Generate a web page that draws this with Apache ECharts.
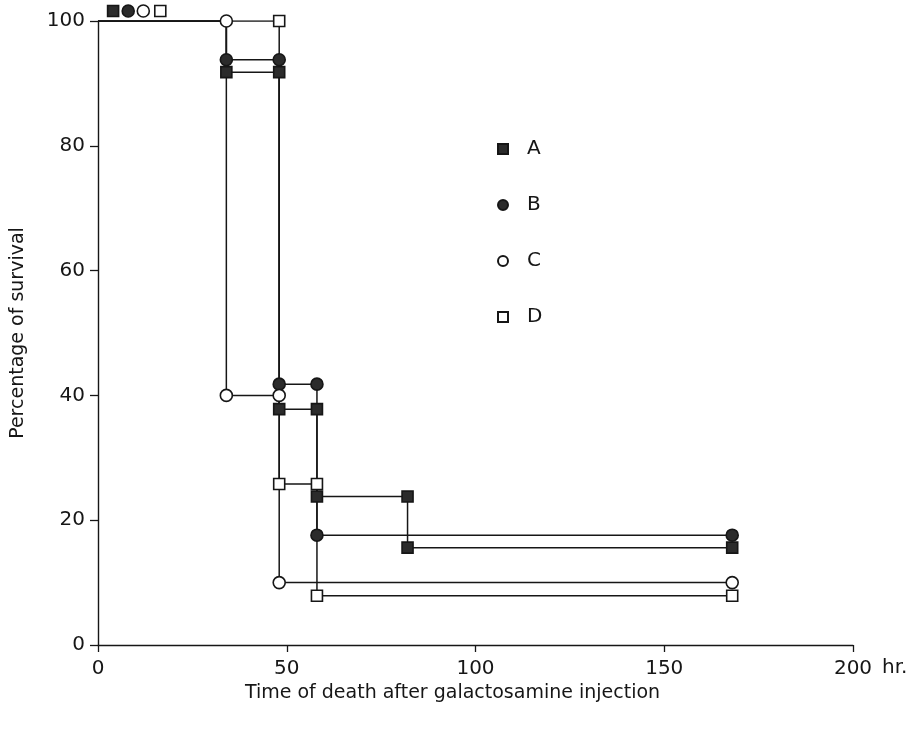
<!DOCTYPE html>
<html>
<head>
<meta charset="utf-8">
<script src="https://cdn.jsdelivr.net/npm/echarts@6/dist/echarts.min.js"></script>
<style>
  html, body { margin: 0; padding: 0; background: #fff; }
  #chart { width: 918px; height: 735px; }
</style>
</head>
<body>
<div id="chart"></div>
<script>
// Survival curves (step functions): time in hours, survival in percent
const timeA = [0, 34, 48, 58, 82, 168];
const survA = [100, 91.8, 37.8, 23.8, 15.6, 15.6];
const timeB = [0, 34, 48, 58, 168];
const survB = [100, 93.8, 41.8, 17.6, 17.6];
const timeC = [0, 34, 48, 168];
const survC = [100, 40, 10, 10];
const timeD = [0, 48, 58, 168];
const survD = [100, 25.8, 7.9, 7.9];

// Plotted symbols on each curve (including the starting symbol above the 100% line)
const markA_t = [4, 34, 48, 48, 58, 58, 82, 82, 168];
const markA_s = [101.6, 91.8, 91.8, 37.8, 37.8, 23.8, 23.8, 15.6, 15.6];
const markB_t = [8, 34, 48, 48, 58, 58, 168];
const markB_s = [101.6, 93.8, 93.8, 41.8, 41.8, 17.6, 17.6];
const markC_t = [12, 34, 34, 48, 48, 168];
const markC_s = [101.6, 100, 40, 40, 10, 10];
const markD_t = [16.5, 48, 48, 58, 58, 168];
const markD_s = [101.6, 100, 25.8, 25.8, 7.9, 7.9];

const groups = ['A', 'B', 'C', 'D'];
const xTicks = [0, 50, 100, 150, 200];
const yTicks = [0, 20, 40, 60, 80, 100];

const zip = (a, b) => a.map((v, i) => [v, b[i]]);
const INK = '#161616';
const FONT = '"DejaVu Sans", Verdana, sans-serif';

function curve(name, t, s) {
  return {
    name: name + ' curve',
    type: 'line',
    step: 'end',
    data: zip(t, s),
    showSymbol: false,
    silent: true,
    lineStyle: { color: INK, width: 1.5 },
    z: 2
  };
}

function marks(name, t, s, symbol, fill, size) {
  return {
    name: name,
    type: 'scatter',
    data: zip(t, s),
    symbol: symbol,
    symbolSize: size,
    clip: false,
    itemStyle: { color: fill, borderColor: INK, borderWidth: 1.6, opacity: 1 },
    z: 5
  };
}

const chart = echarts.init(document.getElementById('chart'), null, { renderer: 'canvas' });

chart.setOption({
  animation: false,
  backgroundColor: '#ffffff',
  textStyle: { fontFamily: FONT, color: INK },
  grid: { left: 98, right: 65, top: 21, bottom: 90, containLabel: false },
  legend: {
    orient: 'vertical',
    left: 492,
    top: 134,
    itemWidth: 10,
    itemHeight: 10,
    itemGap: 36,
    selectedMode: false,
    data: groups.map((g, i) => ({ name: g, icon: i % 3 === 0 ? 'rect' : 'circle' })),
    textStyle: { fontFamily: FONT, fontSize: 20, color: INK, padding: [0, 0, 0, 14], lineHeight: 19 }
  },
  xAxis: {
    type: 'value',
    min: 0,
    max: 200,
    interval: 50,
    name: 'Time of death after galactosamine injection',
    nameLocation: 'middle',
    nameGap: 39,
    nameTextStyle: { fontFamily: FONT, fontSize: 19, color: INK, padding: [0, 46, 0, 0] },
    axisLine: { lineStyle: { color: INK, width: 1.4 } },
    axisTick: { show: true, length: 7, lineStyle: { color: INK, width: 1.3 } },
    splitLine: { show: false },
    axisLabel: {
      fontFamily: FONT, fontSize: 20, color: INK, margin: 14,
      formatter: v => xTicks.includes(v) ? String(v) : ''
    }
  },
  yAxis: {
    type: 'value',
    min: 0,
    max: 100,
    interval: 20,
    name: 'Percentage of survival',
    nameLocation: 'middle',
    nameRotate: 90,
    nameGap: 70,
    nameTextStyle: { fontFamily: FONT, fontSize: 19, color: INK },
    axisLine: { show: true, lineStyle: { color: INK, width: 1.4 } },
    axisTick: { show: true, length: 8, lineStyle: { color: INK, width: 1.3 } },
    splitLine: { show: false },
    axisLabel: {
      fontFamily: FONT, fontSize: 20, color: INK, margin: 13,
      formatter: v => yTicks.includes(v) ? String(v) : ''
    }
  },
  graphic: [
    {
      type: 'text',
      left: 882,
      top: 658,
      style: { text: 'hr.', font: '20px ' + FONT, fill: INK }
    }
  ],
  series: [
    curve('A', timeA, survA),
    curve('B', timeB, survB),
    curve('C', timeC, survC),
    curve('D', timeD, survD),
    marks('A', markA_t, markA_s, 'rect', '#2b2b2b', 11),
    marks('B', markB_t, markB_s, 'circle', '#2b2b2b', 12),
    marks('C', markC_t, markC_s, 'circle', '#ffffff', 12),
    marks('D', markD_t, markD_s, 'rect', '#ffffff', 11)
  ]
});
</script>
</body>
</html>
